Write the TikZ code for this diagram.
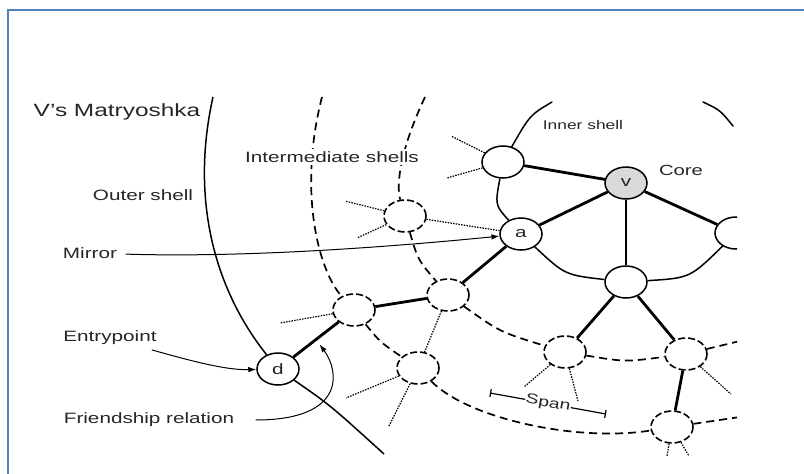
\documentclass[tikz,border=0pt]{standalone}
\usepackage{fontspec}
\setmainfont[FakeStretch=1.38]{Liberation Sans}
\usetikzlibrary{shapes.geometric,arrows.meta}
\definecolor{frameblue}{HTML}{4F81BD}
\definecolor{coregray}{HTML}{D9D9D9}
\begin{document}
\begin{tikzpicture}[
  x=1pt,y=-1pt,
  shell/.style={line width=1.5pt},
  midshell/.style={line width=1.7pt,dash pattern=on 8pt off 5pt},
  tie/.style={line width=2.8pt},
  weak/.style={line width=1.2pt,dash pattern=on 1.5pt off 1.2pt},
  member/.style={ellipse,draw,line width=1.5pt,fill=white,minimum width=42pt,
    minimum height=32pt,inner sep=0pt,text=black!85,font=\fontsize{15}{15}\selectfont},
  ghost/.style={member,line width=1.6pt,dash pattern=on 7pt off 3pt},
  pointer/.style={line width=1pt,-{Latex[length=8pt,width=5.5pt]}},
  spanline/.style={line width=1.2pt,{Bar[width=8pt]}-{Bar[width=8pt]}},
  note/.style={text=black!85,font=\fontsize{15}{18}\selectfont}]
  \useasboundingbox (0,0) rectangle (804,474);
  \draw[frameblue,line width=2pt] (8,474) -- (8,10) -- (804,10);
  \begin{scope}
    \clip (190,95) rectangle (737,456);
    % members
    \node[member,fill=coregray] (v) at (626,183) {v};
    \node[member] (a) at (521,234) {a};
    \node[member] (b) at (503,162) {};
    \node[member] (c) at (626,282) {};
    \node[member] (r) at (736,233) {};
    \node[member] (d) at (278,369) {d};
    \node[ghost] (n1) at (405,216) {};
    \node[ghost] (m1) at (354,310) {};
    \node[ghost] (m2) at (448,295) {};
    \node[ghost] (l1) at (418,368) {};
    \node[ghost] (m3) at (565,352) {};
    \node[ghost] (m4) at (686,354) {};
    \node[ghost] (l2) at (672,427) {};
    % shell ends
    \coordinate (os1) at (213,97);
    \coordinate (os2) at (384,454);
    \coordinate (is1a) at (322,97);
    \coordinate (is1b) at (740,417);
    \coordinate (is2a) at (425,97);
    \coordinate (is2b) at (740,341);
    \coordinate (in1) at (552,102);
    \coordinate (in2) at (703,102);
    \coordinate (in3) at (733,126);
    % outer shell
    \draw[shell] (os1) .. controls (190,200) and (215,290) .. (d);
    \draw[shell] (d) .. controls (330,405) .. (os2);
    % intermediate shells
    \draw[midshell] (is1a) .. controls (298,190) and (318,270) .. (m1);
    \draw[midshell] (m1) .. controls (380,342) .. (l1);
    \draw[midshell] (l1) .. controls (470,420) and (580,442) .. (l2);
    \draw[midshell] (l2) -- (is1b);
    \draw[midshell] (is2a) .. controls (400,150) and (396,185) .. (n1);
    \draw[midshell] (n1) .. controls (418,260) .. (m2);
    \draw[midshell] (m2) .. controls (500,332) .. (m3);
    \draw[midshell] (m3) .. controls (625,362) .. (m4);
    \draw[midshell] (m4) -- (is2b);
    % inner shell
    \draw[shell,line cap=round] (in1) .. controls (530,115) .. (b);
    \draw[shell] (b) .. controls (495,205) .. (a);
    \draw[shell] (a) .. controls (565,275) .. (c);
    \draw[shell] (c) .. controls (690,278) .. (r);
    \draw[shell,line cap=round] (in2) .. controls (720,110) .. (in3);
    % friendship relations
    \draw[tie] (b) -- (v);
    \draw[tie] (v) -- (a);
    \draw[tie] (v) -- (c);
    \draw[tie] (v) -- (r);
    \draw[tie] (a) -- (m2);
    \draw[tie] (m2) -- (m1);
    \draw[tie] (m1) -- coordinate[pos=0.5] (fr) (d);
    \draw[tie] (c) -- (m3);
    \draw[tie] (c) -- (m4);
    \draw[tie] (m4) -- (l2);
    % weak links
    \coordinate (s1) at (345,201);
    \coordinate (s2) at (357,238);
    \coordinate (s3) at (451,136);
    \coordinate (s4) at (447,178);
    \coordinate (s5) at (280,323);
    \coordinate (s6) at (346,398);
    \coordinate (s7) at (389,426);
    \coordinate (s8) at (524,387);
    \coordinate (s9) at (578,401);
    \coordinate (s10) at (731,394);
    \coordinate (s11) at (667,456);
    \coordinate (s12) at (689,456);
    \draw[weak] (n1) -- (a);
    \draw[weak] (m2) -- (l1);
    \draw[weak] (n1) -- (s1) (n1) -- (s2);
    \draw[weak] (b) -- (s3) (b) -- (s4);
    \draw[weak] (m1) -- (s5);
    \draw[weak] (l1) -- (s6) (l1) -- (s7);
    \draw[weak] (m3) -- (s8) (m3) -- (s9);
    \draw[weak] (m4) -- (s10);
    \draw[weak] (l2) -- (s11) (l2) -- (s12);
  \end{scope}
  % labels
  \node[note,font=\fontsize{17.7}{20}\selectfont] (title) at (117,112) {V's Matryoshka};
  \node[note,fill=white,inner sep=2pt] (mid) at (332,157) {Intermediate shells};
  \node[note,font=\fontsize{12.6}{14}\selectfont] (inner) at (583,125) {Inner shell};
  \node[note,font=\fontsize{14.7}{16}\selectfont] (core) at (681,170) {Core};
  \node[note] (outer) at (143,195) {Outer shell};
  \node[note] (mirror) at (90,253) {Mirror};
  \node[note] (entry) at (110,338) {Entrypoint};
  \node[note] (friend) at (149,420) {Friendship relation};
  % pointers
  \draw[pointer,shorten <=5pt] (mirror) .. controls (250,258) and (400,246) .. (a);
  \draw[pointer,shorten <=5pt] (entry) .. controls (205,365) and (230,370) .. (d);
  \draw[pointer,shorten <=18pt,shorten >=6pt] (friend) .. controls (345,420) and (340,372) .. (fr);
  \coordinate (sp1) at (490,393);
  \coordinate (sp2) at (606,414);
  \draw[spanline] (sp1) -- node[sloped,fill=white,inner sep=0.5pt,note,font=\fontsize{14}{15}\selectfont] {Span} (sp2);
\end{tikzpicture}
\end{document}
